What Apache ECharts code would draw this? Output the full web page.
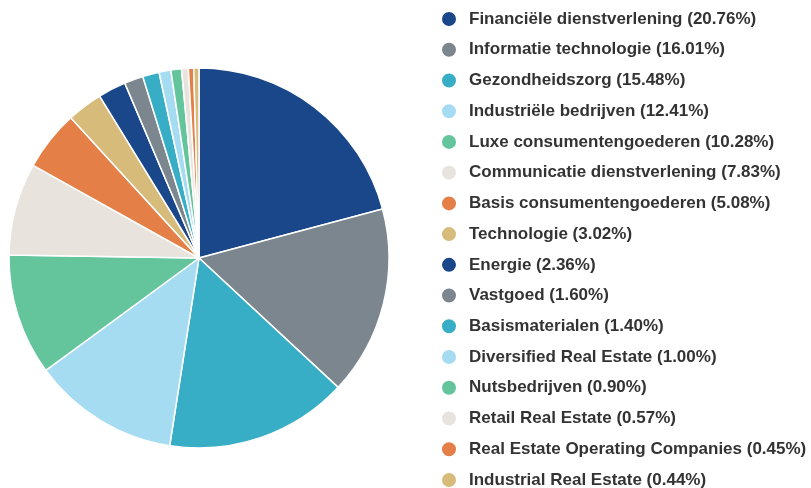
<!DOCTYPE html>
<html>
<head>
<meta charset="utf-8">
<script src="https://cdn.jsdelivr.net/npm/echarts@6/dist/echarts.min.js"></script>
<style>
  html, body { margin: 0; padding: 0; background: #fff; }
  #chart { width: 811px; height: 488px; }
</style>
</head>
<body>
<div id="chart"></div>
<script>
const names = [
  'Financiële dienstverlening', 'Informatie technologie', 'Gezondheidszorg',
  'Industriële bedrijven', 'Luxe consumentengoederen', 'Communicatie dienstverlening',
  'Basis consumentengoederen', 'Technologie', 'Energie', 'Vastgoed',
  'Basismaterialen', 'Diversified Real Estate', 'Nutsbedrijven',
  'Retail Real Estate', 'Real Estate Operating Companies', 'Industrial Real Estate'
];
const values = [20.76, 16.01, 15.48, 12.41, 10.28, 7.83, 5.08, 3.02, 2.36, 1.60, 1.40, 1.00, 0.90, 0.57, 0.45, 0.44];
const colors = ['#1a4789', '#7c868e', '#37aec5', '#a6dcf2', '#64c49c', '#e8e3dc', '#e37f47', '#d6bb7a'];

const chart = echarts.init(document.getElementById('chart'));
const option = {
  color: colors,
  animation: false,
  legend: {
    orient: 'vertical',
    left: 440,
    top: 10,
    height: 488,
    padding: 0,
    icon: 'circle',
    itemWidth: 16,
    itemHeight: 16,
    itemGap: 12.73,
    textStyle: {
      fontFamily: 'Liberation Sans, Arial, sans-serif',
      fontSize: 17,
      lineHeight: 16,
      fontWeight: 'bold',
      color: '#333',
      padding: [0, 0, 0, 7]
    },
    formatter: function (name) {
      const i = names.indexOf(name);
      return name + ' (' + values[i].toFixed(2) + '%)';
    }
  },
  series: [{
    type: 'pie',
    center: [199, 258],
    radius: [0, 190],
    startAngle: 90,
    label: { show: false },
    labelLine: { show: false },
    itemStyle: { borderColor: '#fff', borderWidth: 1.5 },
    data: names.map((n, i) => ({ name: n, value: values[i] }))
  }]
};
chart.setOption(option);
</script>
</body>
</html>
